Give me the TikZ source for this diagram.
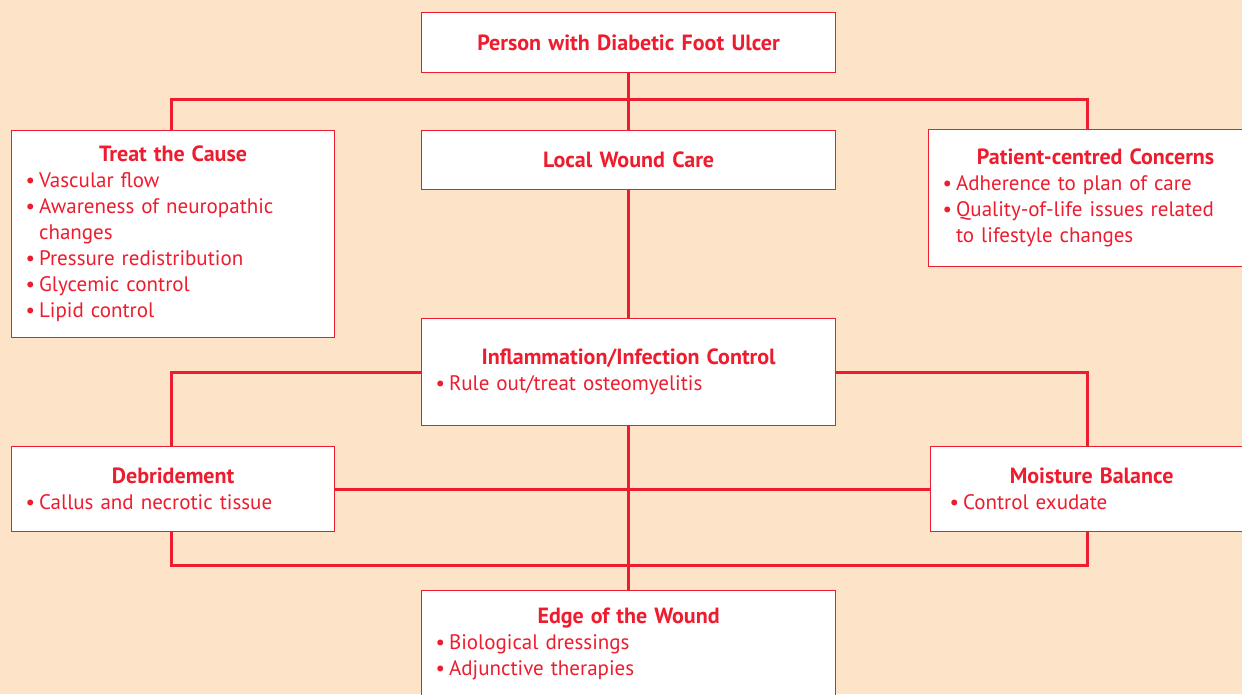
\documentclass[tikz,border=0pt]{standalone}
\usepackage{fontspec}
\setmainfont{PT Sans}
\usepackage{tikz}
\usetikzlibrary{positioning}
\definecolor{dfred}{RGB}{237,28,46}
\definecolor{peach}{RGB}{253,227,200}
\newcommand{\bul}{\textbullet\kern4pt}
\newcommand{\indt}{\phantom{\textbullet\kern4pt}}
\newcommand{\hd}[1]{\makebox[\hsize]{\fontsize{22}{26}\selectfont\bfseries #1}}

\begin{document}
\begin{tikzpicture}[x=1pt,y=-1pt,
    box/.style={draw=dfred, line width=1.2pt, fill=white, text=dfred, anchor=north west,
      inner xsep=14pt, inner ysep=0pt, align=left, font=\fontsize{21}{26}\selectfont},
    title/.style={box, align=center, font=\fontsize{22}{26}\selectfont\bfseries},
    link/.style={draw=dfred, line width=3pt}]
    \useasboundingbox (0,0) rectangle (1242,694);
    \fill[peach] (0,0) rectangle (1242,694);
    \clip (0,0) rectangle (1242,694);

    \node (top) [title, text width=386pt, minimum height=60pt] at (421,12) {Person with Diabetic Foot Ulcer};
    \node (cause) [box, text width=295pt, minimum height=207pt] at (11,130)
      {\hd{Treat the Cause}\\ \bul Vascular flow\\ \bul Awareness of neuropathic\\ \indt changes\\
       \bul Pressure redistribution\\ \bul Glycemic control\\ \bul Lipid control};
    \node (local) [title, text width=386pt, minimum height=59pt] at (421,130) {Local Wound Care};
    \node (concern) [box, text width=306pt, minimum height=137pt] at (928,129)
      {\hd{Patient-centred Concerns}\\ \bul Adherence to plan of care\\ \bul Quality-of-life issues related\\ \indt to lifestyle changes};
    \node (inflam) [box, text width=386pt, minimum height=107pt] at (421,318)
      {\hd{Inflammation/Infection Control}\\ \bul Rule out/treat osteomyelitis};
    \node (debr) [box, text width=295pt, minimum height=85pt] at (11,446)
      {\hd{Debridement}\\ \bul Callus and necrotic tissue};
    \node (moist) [box, inner xsep=19pt, text width=284pt, minimum height=85pt] at (930,446)
      {\hd{Moisture Balance}\\ \bul Control exudate};
    \node (edge) [box, text width=386pt, minimum height=106pt] at (421,590)
      {\hd{Edge of the Wound}\\ \bul Biological dressings\\ \bul Adjunctive therapies};

    \draw[link] (top.south) -- (local.north);
    \draw[link] ([xshift=-2pt]cause.north) -- ++(0,-31) -| ([xshift=-8pt]concern.north);
    \draw[link] (local.south) -- (inflam.north);
    \draw[link] (inflam.west) -| ([xshift=-2pt]debr.north);
    \draw[link] (inflam.east) -| ([xshift=-4pt]moist.north);
    \draw[link] (inflam.south) -- (edge.north);
    \draw[link] (debr.east) -- (moist.west);
    \draw[link] ([xshift=-2pt]debr.south) -- ++(0,33) -| ([xshift=-4pt]moist.south);
\end{tikzpicture}
\end{document}
